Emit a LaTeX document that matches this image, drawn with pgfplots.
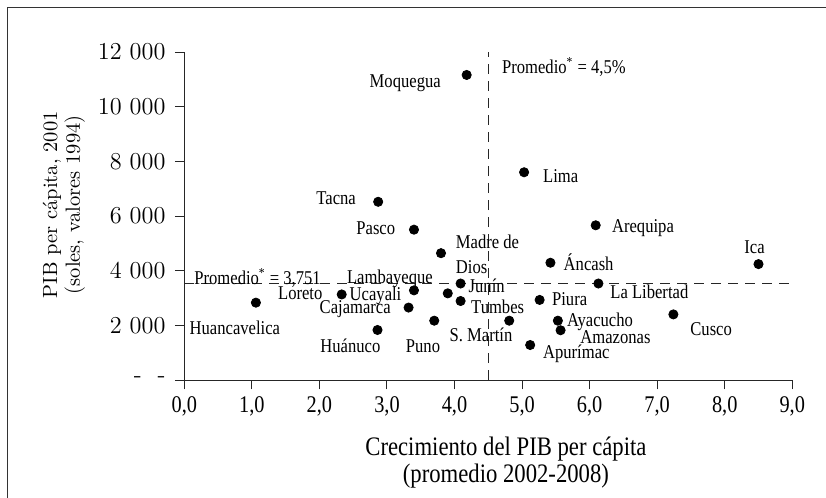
\documentclass[border=0pt]{standalone}
\usepackage{fontspec}
\usepackage{pgfplots}
\pgfplotsset{compat=1.18}
\newfontfamily\cond{Liberation Serif}[FakeStretch=0.85]
\tikzset{lab/.style={anchor=base west, inner sep=0pt, font=\cond\fontsize{9.8}{11}\selectfont}}
\begin{document}
\begin{tikzpicture}
\useasboundingbox (-92.15bp,-59bp) rectangle (320.85bp,190bp);
\draw[line width=0.7bp, black!80] (-88.5bp,-62bp) -- (-88.5bp,186.25bp) -- (324bp,186.25bp);
\begin{axis}[
  at={(0,0)}, anchor=south west,
  scale only axis, width=304bp, height=164bp,
  xmin=0, xmax=9, ymin=0, ymax=12000,
  scaled y ticks=false, scaled x ticks=false,
  axis lines*=left,
  axis line style={line width=0.5bp, black!85},
  tick style={line width=0.5bp, black!85},
  tick align=outside, major tick length=4.7bp,
  xtick={0,1,2,3,4,5,6,7,8,9},
  xticklabels={{0,0},{1,0},{2,0},{3,0},{4,0},{5,0},{6,0},{7,0},{8,0},{9,0}},
  ytick={0,2000,4000,6000,8000,10000,12000},
  yticklabels={{-\ \ -},{2 000},{4 000},{6 000},{8 000},{10 000},{12 000}},
  xticklabel style={font=\cond\fontsize{12}{13}\selectfont},
  yticklabel style={font=\fontsize{12.2}{14}\selectfont, xshift=-1.2bp},
  xlabel={Crecimiento del PIB per cápita\\(promedio 2002-2008)},
  xlabel style={at={(axis description cs:0.529,-0.252)}, anchor=center, align=center, font=\cond\fontsize{13.4}{12}\selectfont},
  ylabel={PIB per cápita, 2001\\(soles, valores 1994)},
  ylabel style={at={(axis description cs:-0.198,0.534)}, anchor=center, align=center, font=\fontsize{10.3}{11.35}\selectfont},
  clip=false,
]
\addplot[black!85, line width=0.5bp, dash pattern=on 5bp off 3.5bp] coordinates {(4.5,0) (4.5,12000)};
\addplot[black!85, line width=0.5bp, dash pattern=on 5bp off 3.5bp] coordinates {(0,3540) (9,3540)};
\addplot[only marks, mark=*, mark size=2.3bp, black] coordinates {
(4.18,11160) (5.03,7600) (2.87,6520) (6.09,5660) (3.40,5500) (3.80,4640)
(8.50,4240) (5.42,4290) (4.09,3530) (6.13,3530) (3.40,3280) (3.90,3170)
(1.06,2830) (2.33,3130) (4.09,2890) (5.26,2930) (3.32,2650) (7.24,2400)
(3.70,2170) (4.81,2170) (5.53,2170) (5.57,1820) (2.86,1830) (5.12,1280)
};
\node[lab] at (axis cs:4.699,11222) {Promedio\textsuperscript{*} = 4,5\%};
\node[lab] at (axis cs:2.739,10710) {Moquegua};
\node[lab] at (axis cs:5.306,7219) {Lima};
\node[lab] at (axis cs:6.327,5404) {Arequipa};
\node[lab] at (axis cs:1.950,6403) {Tacna};
\node[lab] at (axis cs:2.542,5305) {Pasco};
\node[lab] at (axis cs:4.015,4819) {Madre de};
\node[lab] at (axis cs:4.015,3889) {Dios};
\node[lab] at (axis cs:8.286,4610) {Ica};
\node[lab] at (axis cs:5.611,3999) {Áncash};
\node[lab] at (axis cs:4.204,3194) {Junín};
\node[lab] at (axis cs:6.302,2989) {La Libertad};
\node[lab] at (axis cs:4.241,2451) {Tumbes};
\node[lab] at (axis cs:5.439,2708) {Piura};
\node[lab] at (axis cs:5.661,1950) {Ayacucho};
\node[lab] at (axis cs:5.858,1343) {Amazonas};
\node[lab] at (axis cs:7.486,1610) {Cusco};
\node[lab] at (axis cs:3.923,1401) {S. Martín};
\node[lab] at (axis cs:3.275,1024) {Puno};
\node[lab] at (axis cs:5.306,794) {Apurímac};
\node[lab] at (axis cs:0.144,3502) {Promedio\textsuperscript{*} = 3,751};
\node[lab] at (axis cs:2.404,3539) {Lambayeque};
\node[lab] at (axis cs:1.383,2927) {Loreto};
\node[lab] at (axis cs:2.443,2902) {Ucayali};
\node[lab] at (axis cs:1.999,2415) {Cajamarca};
\node[lab] at (axis cs:0.074,1647) {Huancavelica};
\node[lab] at (axis cs:2.009,1014) {Huánuco};
\end{axis}
\end{tikzpicture}
\end{document}
